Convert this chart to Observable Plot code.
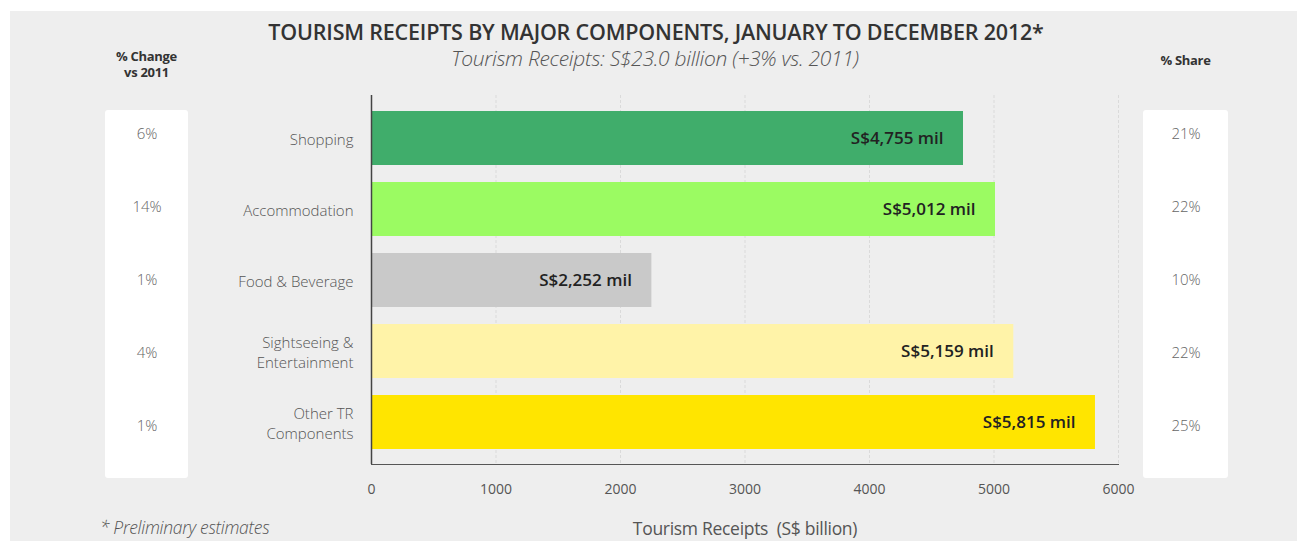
<!DOCTYPE html>
<html>
<head>
<meta charset="utf-8">
<script src="https://cdn.jsdelivr.net/npm/d3@7"></script>
<script src="https://cdn.jsdelivr.net/npm/@observablehq/plot@0.6"></script>
<style>
  html, body { margin: 0; padding: 0; background: #ffffff; }
  #wrap { position: relative; width: 1297px; height: 541px; overflow: hidden; font-family: "Open Sans", sans-serif; }
  #bg { position: absolute; left: 10px; top: 11px; right: 0; bottom: 0; background: #eeeeee; }
  .abs { position: absolute; }
  #title { left: 0; width: 1312px; top: 21px; line-height: 1; text-align: center; font-size: 21.5px; font-weight: 600; color: #333; letter-spacing: -0.2px; }
  #subtitle { left: 0; width: 1310px; top: 48px; line-height: 1; text-align: center; font-size: 21px; font-style: italic; font-weight: 300; color: #555; letter-spacing: -0.3px; }
  .panel { background: #ffffff; border-radius: 3px; top: 110px; height: 368px; }
  .colhead { font-size: 13px; font-weight: 700; color: #333; text-align: center; line-height: 16px; letter-spacing: -0.3px; }
  #foot { left: 100px; top: 515px; font-size: 17.5px; font-style: italic; font-weight: 300; color: #555; letter-spacing: -0.3px; }
  .plot { position: absolute; top: 80px; }
</style>
</head>
<body>
<div id="wrap">
  <div id="bg"></div>
  <div id="title" class="abs">TOURISM RECEIPTS BY MAJOR COMPONENTS, JANUARY TO DECEMBER 2012*</div>
  <div id="subtitle" class="abs">Tourism Receipts: S$23.0 billion (+3% vs. 2011)</div>
  <div class="abs colhead" style="left:105px;width:83px;top:48px;">% Change<br>vs 2011</div>
  <div class="abs colhead" style="left:1143px;width:85px;top:52px;">% Share</div>
  <div class="abs panel" style="left:105px;width:83px;"></div>
  <div class="abs panel" style="left:1143px;width:85px;"></div>
  <div id="left" class="plot" style="left:105px;"></div>
  <div id="main" class="plot" style="left:0px;"></div>
  <div id="right" class="plot" style="left:1143px;"></div>
  <div id="foot" class="abs">* Preliminary estimates</div>
</div>
<script>
// ---- data ----
const categories = ["Shopping", "Accommodation", "Food & Beverage", "Sightseeing &\nEntertainment", "Other TR\nComponents"];
const receipts = [4755, 5012, 2252, 5159, 5815]; // S$ million
const changeVs2011 = [6, 14, 1, 4, 1]; // %
const shareOfTotal = [21, 22, 10, 22, 25]; // %
const barColors = ["#40ad6b", "#9bfb62", "#c9c9c9", "#fff3a8", "#ffe500"];
const xTicks = [0, 1000, 2000, 3000, 4000, 5000, 6000];

const rows = categories.map((c, i) => ({category: c, value: receipts[i], change: changeVs2011[i], share: shareOfTotal[i]}));

const H = 461, MT = 15, MB = 77;
const yScale = {domain: categories, paddingInner: 0.24, paddingOuter: 0.21};
const fmt = d3.format(",");

const main = Plot.plot({
  width: 1140,
  height: H,
  marginTop: MT,
  marginBottom: MB,
  marginLeft: 371,
  marginRight: 22,
  style: {background: "transparent", color: "#555", fontFamily: "Open Sans, sans-serif", fontSize: "14px"},
  x: {domain: [0, 6000], ticks: xTicks, tickFormat: d => String(d), tickSize: 0, tickPadding: 20, line: true,
      label: "Tourism Receipts  (S$ billion)", labelAnchor: "center", labelOffset: 70, labelArrow: false},
  y: yScale,
  color: {domain: categories, range: barColors},
  marks: [
    Plot.gridX(xTicks.slice(1), {stroke: "#d2d2d2", strokeOpacity: 0.7, strokeDasharray: "3,2"}),
    Plot.barX(rows, {x: "value", y: "category", fill: "category"}),
    Plot.text(rows, {x: "value", y: "category", text: d => `S$${fmt(d.value)} mil`, textAnchor: "end", dx: -20,
      fill: "#222", fontWeight: 600, fontSize: 17, letterSpacing: "-0.6px"}),
    Plot.axisY({tickSize: 0, tickPadding: 18, fontSize: 15, lineHeight: 1.33, label: null, fill: "#555", fontWeight: 300}),
    Plot.ruleX([0], {stroke: "#444", strokeWidth: 1.5})
  ]
});
main.querySelectorAll('g[aria-label="x-axis label"] text').forEach(t => { t.setAttribute("font-size", "17.5"); t.setAttribute("letter-spacing", "-0.3px"); });
document.getElementById("main").appendChild(main);

function sideColumn(width, field) {
  return Plot.plot({
    width, height: H, marginTop: MT, marginBottom: MB, marginLeft: 0, marginRight: 0,
    style: {background: "transparent", fontFamily: "Open Sans, sans-serif"},
    y: {...yScale, axis: null},
    marks: [
      Plot.text(rows, {y: "category", text: d => `${d[field]}%`, frameAnchor: "middle", fontSize: 15, fill: "#666", fontWeight: 300})
    ]
  });
}
document.getElementById("left").appendChild(sideColumn(83, "change"));
document.getElementById("right").appendChild(sideColumn(85, "share"));
</script>
</body>
</html>
